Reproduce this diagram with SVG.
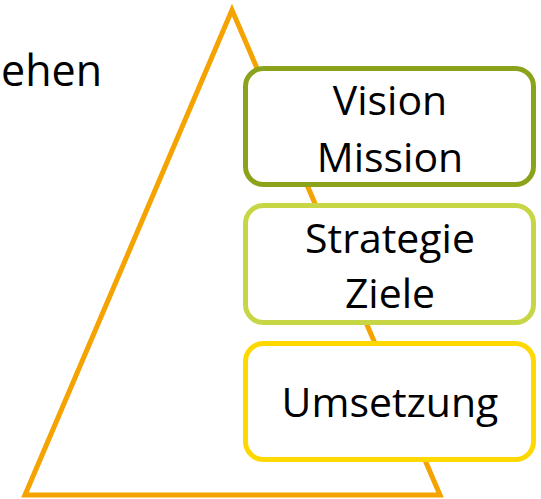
<svg xmlns="http://www.w3.org/2000/svg" width="541" height="499" viewBox="0 0 541 499">
<style>
.t{font-family:"Open Sans","Liberation Sans",sans-serif;font-size:41px;fill:#000;text-anchor:middle}
.box{fill:#fff;stroke-width:5}
</style>
<rect width="541" height="499" fill="#fff"/>
<g id="title"><text class="t" x="1" y="86" style="text-anchor:start;font-size:43px">ehen</text></g>
<g id="connectors"><polygon points="232,10 25,495 440,495" fill="none" stroke="#F4A300" stroke-width="5" stroke-linejoin="miter"/></g>
<g id="vision"><rect class="box" x="245.5" y="68.5" width="288" height="116" rx="18" stroke="#8BA31B"/><text class="t" x="390" y="115">Vision</text><text class="t" x="390" y="172">Mission</text></g>
<g id="strategie"><rect class="box" x="245.5" y="205.5" width="288" height="117" rx="18" stroke="#C6D645"/><text class="t" x="390" y="253">Strategie</text><text class="t" x="390" y="308">Ziele</text></g>
<g id="umsetzung"><rect class="box" x="245.5" y="343.5" width="288" height="116" rx="18" stroke="#FFD800"/><text class="t" x="390" y="417">Umsetzung</text></g>
</svg>
